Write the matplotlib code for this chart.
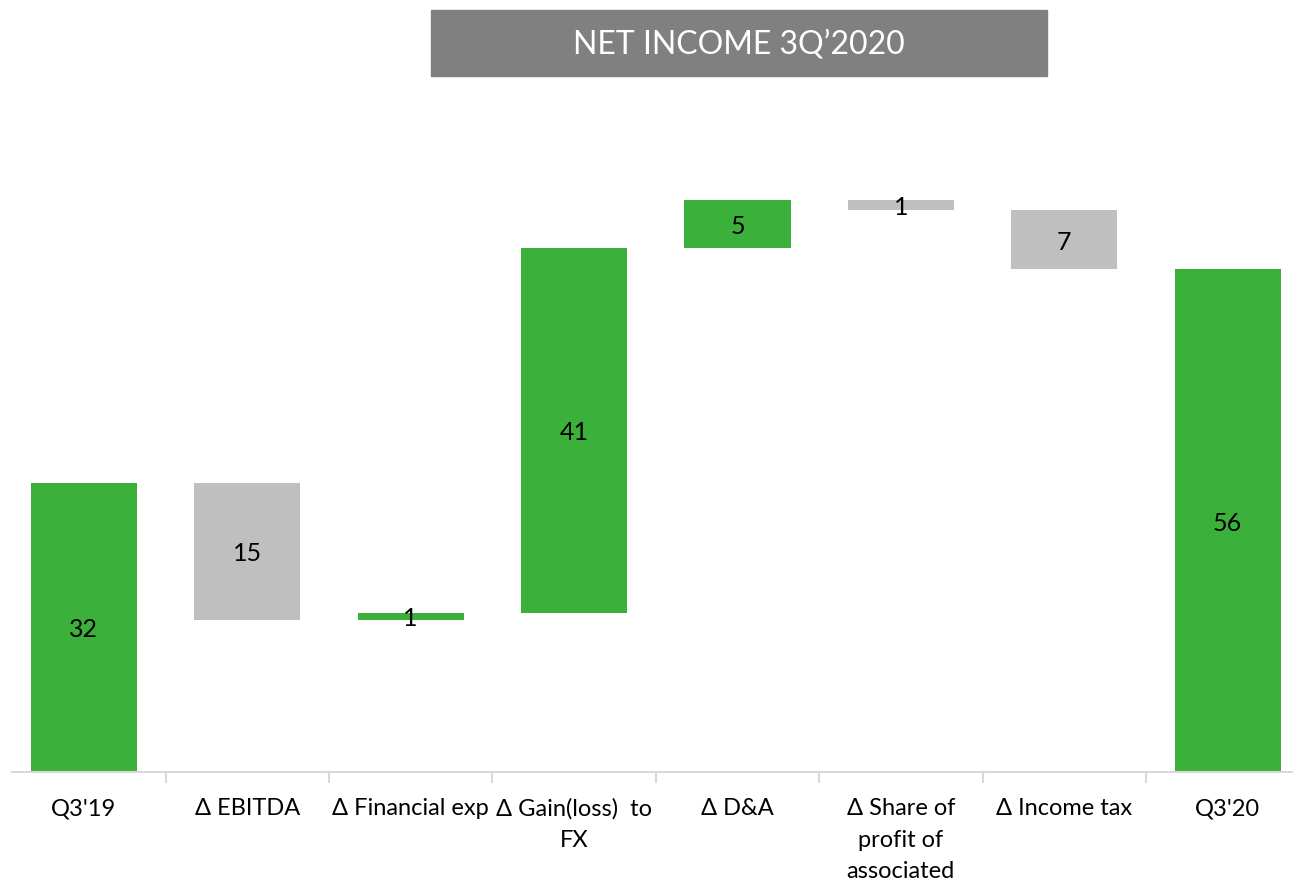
import matplotlib.pyplot as plt
from matplotlib.patches import Rectangle

plt.rcParams['font.family'] = ['Lato', 'DejaVu Sans']

labels = ["Q3'19", "Δ EBITDA", "Δ Financial exp", "Δ Gain(loss)  to\nFX", "Δ D&A",
          "Δ Share of\nprofit of\nassociated", "Δ Income tax", "Q3'20"]
changes = [32.3, -15.3, 0.8, 40.7, 5.3, -1.1, -6.6, 56.1]
is_total = [True, False, False, False, False, False, False, True]

green = '#3BB03B'
grey = '#BFBFBF'

fig = plt.figure(figsize=(12.93, 8.86), dpi=100)
ax = fig.add_axes([12/1293, 1 - 772/886, 1 - 12/1293, 672/886])

running = 0
for i, v in enumerate(changes):
    if is_total[i]:
        bottom, height = 0, v
        running = v
    else:
        bottom = running if v > 0 else running + v
        height = abs(v)
        running += v
    color = green if v > 0 else grey
    ax.bar(i, height, bottom=bottom, width=0.65, color=color)
    ax.text(i, bottom + height / 2 - 0.3, f"{abs(v):.0f}", ha='center', va='center',
            fontsize=18, color='black')

ax.set_xlim(-0.44, 7.4)
ax.set_ylim(0, 75)
ax.set_yticks([])
for s in ['left', 'right', 'top']:
    ax.spines[s].set_visible(False)
ax.spines['bottom'].set_color('#D9D9D9')
ax.spines['bottom'].set_linewidth(1.5)
ax.set_xticks(range(len(labels)))
ax.set_xticklabels(labels, fontsize=17, linespacing=1.6, va='top')
ax.tick_params(axis='x', which='major', length=0, pad=19)
ax.set_xticks([i + 0.5 for i in range(len(labels) - 1)], minor=True)
ax.tick_params(axis='x', which='minor', length=8, width=1.5, color='#D9D9D9')

fig.patches.append(Rectangle((431/1293, 1 - 76/886), 616/1293, 66/886,
                             transform=fig.transFigure, color='#808080', zorder=0))
fig.text(739/1293, 1 - 45/886, "NET INCOME 3Q’2020", ha='center', va='center',
         color='white', fontsize=23)

fig.savefig('out.png', dpi=100)
